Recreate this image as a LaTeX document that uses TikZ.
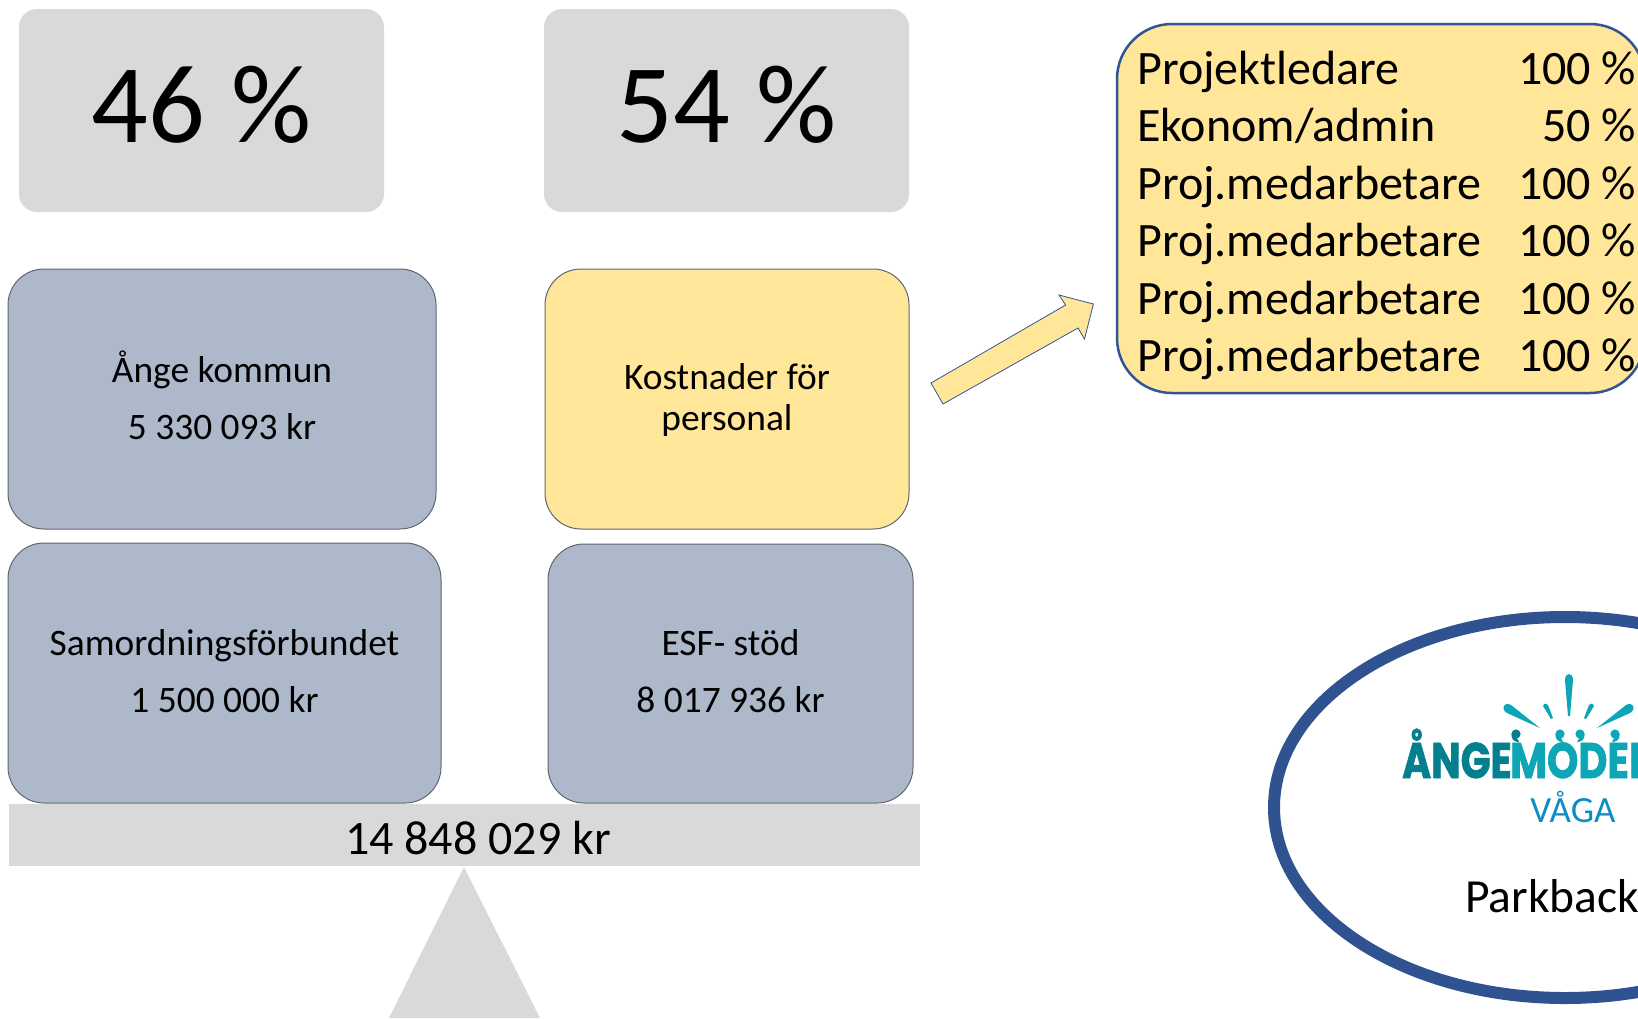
\documentclass[tikz,border=0pt]{standalone}
\usepackage{fontspec}
\usepackage{graphicx}
\usetikzlibrary{shapes.geometric}
\setmainfont{Carlito}
\newfontfamily\logofont[BoldFeatures={FakeBold=1.5}]{Poppins}
\definecolor{greyfill}{HTML}{D9D9D9}
\definecolor{bluefill}{HTML}{ADB9CA}
\definecolor{yellowfill}{HTML}{FFE699}
\definecolor{edgegrey}{HTML}{5F6670}
\definecolor{navy}{HTML}{2F5597}
\definecolor{ringblue}{HTML}{2F5290}
\definecolor{tealdark}{HTML}{037F8E}
\definecolor{teallight}{HTML}{0CA6B6}
\definecolor{vagablue}{HTML}{0E8DC4}
\newcommand{\pcttext}[2]{\smash{\raisebox{-31.5pt}{#1\hspace{0.235em}#2}}}
\newcommand{\listrow}[2]{\makebox[499pt][l]{#1\hfill #2}}
\newcommand{\blobL}[3]{\fill[#3] (#1,#2) circle (4.6pt); \fill[#3] (#1-4.6,#2) .. controls (#1-5,#2+6) and (#1-1,#2+8) .. (#1+3,#2+8) -- (#1+1,#2+4) -- cycle;}
\newcommand{\blobR}[3]{\fill[#3] (#1,#2) circle (4.6pt); \fill[#3] (#1+4.6,#2) .. controls (#1+5,#2+6) and (#1+1,#2+8) .. (#1-3,#2+8) -- (#1-1,#2+4) -- cycle;}
\tikzset{
  pct/.style={fill=greyfill,rounded corners=18pt,inner sep=0pt,minimum width=365pt,minimum height=203pt,font=\fontsize{112}{112}\selectfont},
  fund/.style={draw=edgegrey,line width=1pt,rounded corners=36pt,inner sep=0pt,align=center,font=\fontsize{37.4}{57}\selectfont},
  ray/.style={fill=teallight,draw=none},
  logoletters/.style={inner sep=0pt,anchor=base west,font=\logofont\bfseries\fontsize{50}{50}\selectfont}
}
\begin{document}
\begin{tikzpicture}[x=1pt,y=-1pt]
\useasboundingbox (0,0) rectangle (1638,1018);
\clip (0,0) rectangle (1638,1018);
\node[pct] (p46) at (201.5,110.5) {\pcttext{46}{\%}};
\node[pct] (p54) at (726.5,110.5) {\pcttext{54}{\%}};
\node[fund,fill=bluefill,minimum width=428pt,minimum height=260pt] (ange) at (222,399) {Ånge kommun\\5 330 093 kr\rule[-8pt]{0pt}{0pt}};
\node[fund,fill=yellowfill,minimum width=364pt,minimum height=260pt,font=\fontsize{37.4}{41}\selectfont] (kost) at (727,399) {\rule{0pt}{28pt}Kostnader för\\personal};
\node[fund,fill=bluefill,minimum width=433pt,minimum height=260pt] (samord) at (224.5,673) {Samordningsförbundet\\1 500 000 kr\rule[-4pt]{0pt}{0pt}};
\node[fund,fill=bluefill,minimum width=365pt,minimum height=259pt] (esf) at (730.5,673.5) {ESF- stöd\\8 017 936 kr\rule[-4pt]{0pt}{0pt}};
\node[fill=greyfill,inner sep=0pt,minimum width=911pt,minimum height=62pt,font=\fontsize{48}{48}\selectfont] (bar) at (464.5,835) {\hspace*{27pt}\smash{\raisebox{-19.5pt}{14 848 029 kr}}};
\coordinate (apex) at (464,867);
\fill[greyfill] (apex) -- (540,1018) -- (389,1018) -- cycle;
\node[draw=navy,line width=2.5pt,fill=yellowfill,rounded corners=55pt,inner sep=0pt,minimum width=528pt,minimum height=369pt] (list) at (1381,208.5) {};
\node[anchor=north west,inner sep=0pt,align=left,font=\fontsize{48}{57.5}\selectfont] (listtext) at (1137,50.5) {%
\listrow{Projektledare}{100 \%}\\
\listrow{Ekonom/admin}{50 \%}\\
\listrow{Proj.medarbetare}{100 \%}\\
\listrow{Proj.medarbetare}{100 \%}\\
\listrow{Proj.medarbetare}{100 \%}\\
\listrow{Proj.medarbetare}{100 \%}};
\draw[navy,line width=0.8pt,fill=yellowfill,line join=miter] (931,383) -- (1065.6,305) -- (1059,295) -- (1093.4,304) -- (1084.5,339) -- (1078,328) -- (943,404) -- cycle;
\node[draw=ringblue,line width=12pt,ellipse,inner sep=0pt,minimum width=582pt,minimum height=381pt] (ring) at (1565,807.5) {};
% logo
\node[logoletters,text=tealdark] (lgA) at (1402,778) {\scalebox{0.785}[1]{ÅNGE}};
\node[logoletters,text=teallight] (lgB) at (1510,778) {\scalebox{0.8}[1]{MODEL}};
\blobL{1516}{734}{tealdark}
\blobL{1560}{734}{teallight}
\blobR{1580}{734}{teallight}
\blobR{1615}{734}{teallight}
\path[ray] (1565,680) .. controls (1565,672) and (1573,672) .. (1573,680) -- (1570,716) -- (1568,716) -- cycle;
\path[ray] (1511,705) .. controls (1504,701) and (1500,709) .. (1507,713) -- (1540,728) -- cycle;
\path[ray] (1626,705) .. controls (1633,701) and (1637,709) .. (1630,713) -- (1597,728) -- cycle;
\path[ray] (1543,706) .. controls (1544,703) and (1547,703) .. (1548,705) -- (1553,718) -- (1551,719) -- cycle;
\path[ray] (1594,706) .. controls (1593,703) and (1590,703) .. (1589,705) -- (1584,718) -- (1586,719) -- cycle;
\node[inner sep=0pt,anchor=base,text=vagablue,font=\fontsize{37}{37}\selectfont] (vaga) at (1573,822) {VÅGA};
\node[inner sep=0pt,anchor=base west,font=\fontsize{47.5}{47.5}\selectfont] (park) at (1465,912) {Parkback};
\end{tikzpicture}
\end{document}
